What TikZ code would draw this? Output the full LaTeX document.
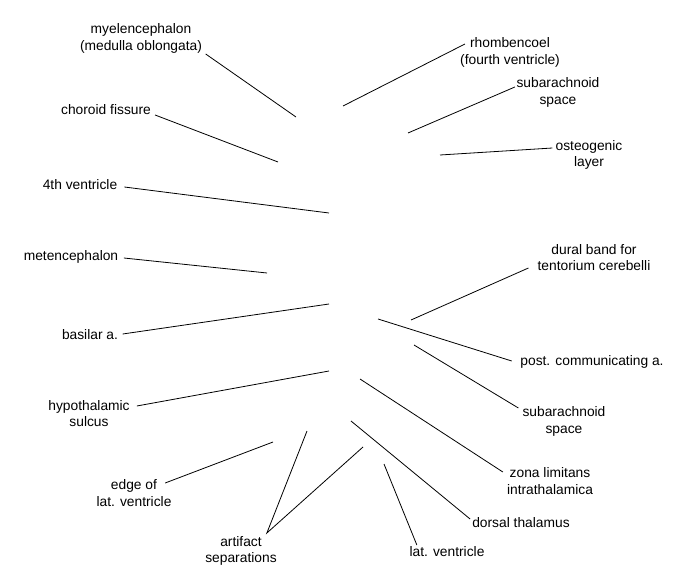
\documentclass[tikz,border=0pt]{standalone}
\usepackage{fontspec}
\setmainfont{Liberation Sans}
\begin{document}
\begin{tikzpicture}[x=1pt,y=-1pt,
  lbl/.style={inner sep=0pt,align=center,font=\fontsize{13.8pt}{16.5pt}\selectfont},
  lead/.style={line width=0.8pt,black}]
\useasboundingbox (0,0) rectangle (675,580);
% labels (left)
\node[lbl] (mye) at (141,38.5) {myelencephalon\\(medulla oblongata)};
\node[lbl] (cf) at (106,110) {choroid fissure};
\node[lbl] (v4) at (80,185) {4th ventricle};
\node[lbl] (met) at (71,257) {metencephalon};
\node[lbl] (bas) at (90,335) {basilar a.};
\node[lbl] (hyp) at (89,413.5) {hypothalamic\\sulcus};
\node[lbl] (edge) at (134,493) {edge of\\lat. ventricle};
\node[lbl] (art) at (241,551) {artifact\\separations};
% labels (right)
\node[lbl] (latv) at (447,552) {lat. ventricle};
\node[lbl] (dt) at (521,523) {dorsal thalamus};
\node[lbl] (zl) at (550,481) {zona limitans\\intrathalamica};
\node[lbl] (sasb) at (564,421.5) {subarachnoid\\space};
\node[lbl] (pca) at (592,362) {post. communicating a.};
\node[lbl] (dur) at (594,257.5) {dural band for\\tentorium cerebelli};
\node[lbl] (ost) at (589,155) {osteogenic\\layer};
\node[lbl] (sast) at (558,92.5) {subarachnoid\\space};
\node[lbl] (rho) at (510,52.5) {rhombencoel\\(fourth ventricle)};
% free ends
\coordinate (mye-e) at (296,117);
\coordinate (cf-e) at (278,162);
\coordinate (v4-e) at (329,213);
\coordinate (met-e) at (267,273);
\coordinate (bas-e) at (329,304);
\coordinate (hyp-e) at (329,371);
\coordinate (edge-e) at (273,442);
\coordinate (art-e1) at (307,431);
\coordinate (art-e2) at (363,447);
\coordinate (latv-e) at (384,464);
\coordinate (dt-e) at (351,421);
\coordinate (zl-e) at (360,379);
\coordinate (sasb-e) at (414,345);
\coordinate (pca-e) at (378,319);
\coordinate (dur-e) at (411,320);
\coordinate (ost-e) at (440,155);
\coordinate (sast-e) at (408,133);
\coordinate (rho-e) at (343,106);
% leader lines
\draw[lead] ([shift={(3.5,15.5)}]mye.east) -- (mye-e);
\draw[lead] ([shift={(4,5)}]cf.east) -- (cf-e);
\draw[lead] ([shift={(7,2)}]v4.east) -- (v4-e);
\draw[lead] ([shift={(5.5,1)}]met.east) -- (met-e);
\draw[lead] ([shift={(4.5,-1)}]bas.east) -- (bas-e);
\draw[lead] ([shift={(7,-7.5)}]hyp.east) -- (hyp-e);
\draw[lead] ([shift={(-6.5,-10)}]edge.east) -- (edge-e);
\draw[lead] (art-e1) -- ([shift={(-10,-18)}]art.east) -- (art-e2);
\draw[lead] ([shift={(7.5,-7)}]latv.west) -- (latv-e);
\draw[lead] ([shift={(-2,-4)}]dt.west) -- (dt-e);
\draw[lead] ([shift={(-4,-9)}]zl.west) -- (zl-e);
\draw[lead] ([shift={(-4,-13.5)}]sasb.west) -- (sasb-e);
\draw[lead] ([shift={(-8.5,-1)}]pca.west) -- (pca-e);
\draw[lead] ([shift={(-9,10.5)}]dur.west) -- (dur-e);
\draw[lead] ([shift={(-3,-7)}]ost.west) -- (ost-e);
\draw[lead] ([shift={(-1.5,-5.5)}]sast.west) -- (sast-e);
\draw[lead] ([shift={(5,-8.5)}]rho.west) -- (rho-e);
\end{tikzpicture}
\end{document}
